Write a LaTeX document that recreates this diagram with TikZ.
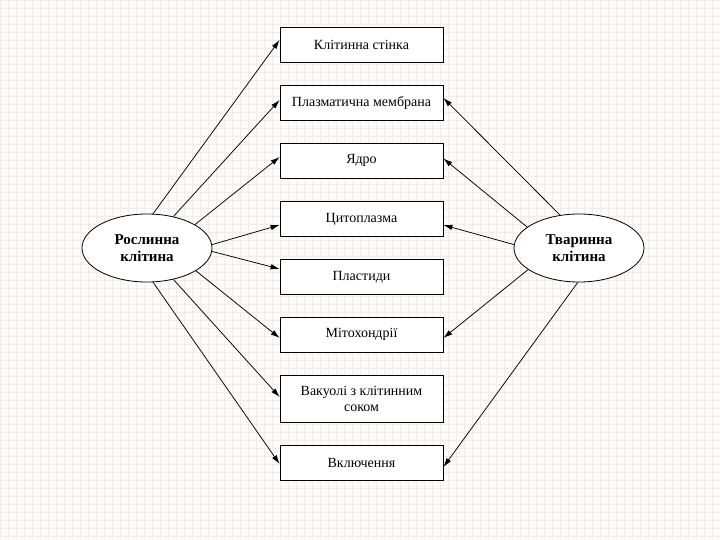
\documentclass[tikz,border=0pt]{standalone}
\usepackage{fontspec}
\setmainfont{Liberation Serif}
\usetikzlibrary{arrows.meta,shapes.geometric}
\definecolor{gridc}{RGB}{245,236,231}
\definecolor{bgc}{RGB}{254,252,251}
\begin{document}
\begin{tikzpicture}[x=1pt,y=-1pt,
  box/.style={draw, line width=0.8pt, fill=white, minimum width=163pt, minimum height=35pt,
    inner sep=0pt, font=\fontsize{14}{16}\selectfont, align=center},
  cell/.style={draw, ellipse, line width=0.8pt, fill=white, minimum width=130pt, minimum height=68pt,
    inner sep=0pt, font=\bfseries\fontsize{15}{17}\selectfont, align=center},
  arr/.style={-{Latex[length=9pt,width=5.5pt]}, line width=0.75pt}]
\useasboundingbox (0,0) rectangle (720,540);
\fill[bgc] (0,0) rectangle (720,540);
\draw[gridc, line width=0.5pt, step=8pt] (0,0) grid (720,540);

\node[box] (b1) at (361.5,44.5) {Клітинна стінка};
\node[box] (b2) at (361.5,103) {Плазматична мембрана};
\node[box] (b3) at (361.5,160.5) {Ядро};
\node[box] (b4) at (361.5,219) {Цитоплазма};
\node[box] (b5) at (361.5,277) {Пластиди};
\node[box] (b6) at (361.5,334.5) {Мітохондрії};
\node[box, minimum height=47pt] (b7) at (361.5,398.5) {Вакуолі з клітинним\\соком};
\node[box] (b8) at (361.5,462.5) {Включення};

\node[cell] (L) at (147,248) {Рослинна\\клітина};
\node[cell] (R) at (579,248) {Тваринна\\клітина};

\draw[arr] (L.80)  -- ([yshift=4.5pt]b1.west);
\draw[arr] (L.50)  -- ([yshift=3pt]b2.west);
\draw[arr] (L.26)  -- ([yshift=3.5pt]b3.west);
\draw[arr] (L.3)   -- ([yshift=-6pt]b4.west);
\draw[arr] (L.-3)  -- ([yshift=8pt]b5.west);
\draw[arr] (L.-25) -- ([yshift=-3.5pt]b6.west);
\draw[arr] (L.-50) -- ([yshift=1.5pt]b7.west);
\draw[arr] (L.-80) -- ([yshift=-1.5pt]b8.west);

\draw[arr] (R.120) -- ([yshift=5pt]b2.east);
\draw[arr] (R.158) -- ([yshift=2pt]b3.east);
\draw[arr] (R.177) -- ([yshift=-6pt]b4.east);
\draw[arr] (R.203) -- ([yshift=-3.5pt]b6.east);
\draw[arr] (R.268) -- ([yshift=-4.5pt]b8.east);
\end{tikzpicture}
\end{document}
